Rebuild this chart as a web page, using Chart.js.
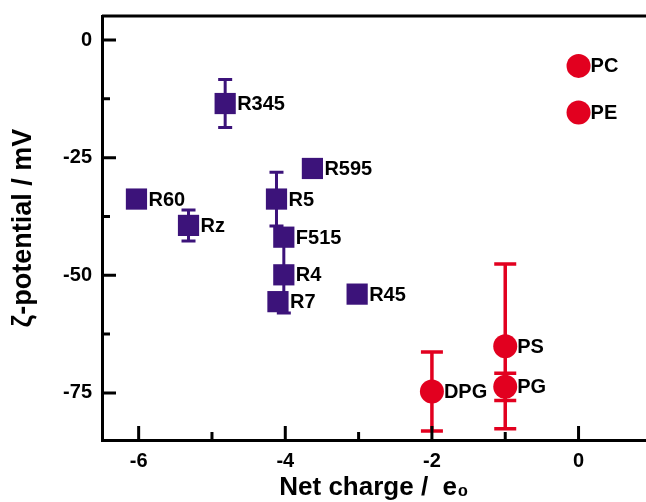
<!DOCTYPE html>
<html>
<head>
<meta charset="utf-8">
<script src="https://cdn.jsdelivr.net/npm/chart.js@4"></script>
<style>
  html, body { margin: 0; padding: 0; background: #fff; }
  #wrap { width: 646px; height: 502px; }
</style>
</head>
<body>
<div id="wrap"><canvas id="c" width="646" height="502"></canvas></div>
<script>
// peptides (squares)
const pepNames = ["R345", "R60", "Rz", "R5", "F515", "R595", "R4", "R7", "R45"];
const pepCharge = [-4.82, -6.03, -5.32, -4.12, -4.02, -3.63, -4.02, -4.1, -3.02];
const pepZeta = [-13.5, -33.8, -39.4, -33.8, -41.9, -27.3, -49.9, -55.6, -54.0];
const pepErr = [5.1, 0, 3.3, 5.7, 0, 0, 8.1, 0, 0];

// lipids (circles)
const lipNames = ["PC", "PE", "PS", "PG", "DPG"];
const lipCharge = [0, 0, -1, -1, -2];
const lipZeta = [-5.5, -15.4, -65.1, -73.7, -74.7];
const lipErr = [0, 0, 17.5, 2.9, 8.4];

const xTicks = [-6, -4, -2, 0];
const xMinor = [-5, -3, -1];
const yTicks = [0, -25, -50, -75];
const yMinor = [-12.5, -37.5, -62.5];

const PURPLE = "#3c137a";
const RED = "#e2001f";
const FONT = "'Liberation Sans', Arial, sans-serif";

Chart.defaults.font.family = FONT;
Chart.defaults.color = "#000";

const toPoints = (xs, ys) => xs.map((v, i) => ({ x: v, y: ys[i] }));

// error bars behind the markers
const errorBars = {
    id: "errorBars",
    beforeDatasetsDraw(chart) {
        const { ctx, scales: { x, y } } = chart;
        chart.data.datasets.forEach(ds => {
            ds.errors.forEach((e, i) => {
                if (!e) return;
                const p = ds.data[i];
                const px = x.getPixelForValue(p.x);
                const top = y.getPixelForValue(p.y + e);
                const bot = y.getPixelForValue(p.y - e);
                ctx.save();
                ctx.strokeStyle = ds.backgroundColor;
                ctx.lineWidth = ds.errWidth;
                ctx.beginPath();
                ctx.moveTo(px, top); ctx.lineTo(px, bot);
                ctx.moveTo(px - ds.capHalf, top); ctx.lineTo(px + ds.capHalf, top);
                ctx.moveTo(px - ds.capHalf, bot); ctx.lineTo(px + ds.capHalf, bot);
                ctx.stroke();
                ctx.restore();
            });
        });
    }
};

// names right of each marker
const pointNames = {
    id: "pointNames",
    afterDatasetsDraw(chart) {
        const { ctx, scales: { x, y } } = chart;
        ctx.save();
        ctx.font = "bold 20px " + FONT;
        ctx.fillStyle = "#000";
        ctx.textAlign = "left";
        ctx.textBaseline = "middle";
        chart.data.datasets.forEach(ds => {
            ds.names.forEach((n, i) => {
                const p = ds.data[i];
                ctx.fillText(n, x.getPixelForValue(p.x) + ds.labelGap, y.getPixelForValue(p.y) + 1);
            });
        });
        ctx.restore();
    }
};

// inward ticks + top frame line
const frame = {
    id: "frame",
    afterDraw(chart) {
        const { ctx, chartArea: a, scales: { x, y } } = chart;
        ctx.save();
        ctx.strokeStyle = "#000";
        ctx.lineWidth = 3;
        ctx.beginPath();
        ctx.moveTo(a.left, a.top); ctx.lineTo(a.right, a.top);
        xTicks.forEach(v => { const px = x.getPixelForValue(v); ctx.moveTo(px, a.bottom); ctx.lineTo(px, a.bottom - 14); });
        xMinor.forEach(v => { const px = x.getPixelForValue(v); ctx.moveTo(px, a.bottom); ctx.lineTo(px, a.bottom - 8); });
        yTicks.forEach(v => { const py = y.getPixelForValue(v); ctx.moveTo(a.left, py); ctx.lineTo(a.left + 14, py); });
        yMinor.forEach(v => { const py = y.getPixelForValue(v); ctx.moveTo(a.left, py); ctx.lineTo(a.left + 8, py); });
        ctx.stroke();
        ctx.restore();
    }
};

const tickFont = { size: 20, weight: "bold" };

// keep the plot box where the original has it
const noPad = s => { s.paddingLeft = 0; s.paddingRight = 0; s.paddingTop = 0; s.paddingBottom = 0; };

new Chart(document.getElementById("c"), {
    type: "scatter",
    data: {
        datasets: [
            {
                data: toPoints(pepCharge, pepZeta),
                names: pepNames,
                errors: pepErr,
                errWidth: 3,
                capHalf: 7,
                labelGap: 12,
                pointStyle: "rect",
                pointRadius: 15,
                pointHoverRadius: 15,
                borderWidth: 0,
                backgroundColor: PURPLE,
                borderColor: PURPLE
            },
            {
                data: toPoints(lipCharge, lipZeta),
                names: lipNames,
                errors: lipErr,
                errWidth: 3.5,
                capHalf: 11,
                labelGap: 12,
                pointStyle: "circle",
                pointRadius: 12,
                pointHoverRadius: 12,
                borderWidth: 0,
                backgroundColor: RED,
                borderColor: RED
            }
        ]
    },
    options: {
        responsive: false,
        animation: false,
        events: [],
        layout: { autoPadding: false, padding: { top: 16, left: 0, right: 0, bottom: 0 } },
        plugins: {
            legend: { display: false },
            tooltip: { enabled: false }
        },
        scales: {
            x: {
                type: "linear",
                min: -6.5,
                max: 0.92,
                afterBuildTicks: s => { s.ticks = xTicks.map(v => ({ value: v })); },
                afterFit: s => { s.height = 62; noPad(s); },
                ticks: { font: tickFont, color: "#000", padding: 9 },
                grid: { display: false, drawTicks: false },
                border: { display: true, color: "#000", width: 3 },
                title: {
                    display: true,
                    text: "Net charge /  e₀",
                    color: "#000",
                    font: { size: 26, weight: "bold", lineHeight: 1 },
                    padding: { top: 0, bottom: 1 }
                }
            },
            y: {
                type: "linear",
                min: -85,
                max: 5.1,
                afterBuildTicks: s => { s.ticks = yTicks.map(v => ({ value: v })); },
                afterFit: s => { s.width = 102; noPad(s); },
                ticks: { font: tickFont, color: "#000", padding: 10 },
                grid: { display: false, drawTicks: false },
                border: { display: true, color: "#000", width: 3 },
                title: {
                    display: true,
                    text: "ζ-potential / mV",
                    color: "#000",
                    font: { size: 27, weight: "bold", lineHeight: 1 },
                    padding: { top: 10, bottom: 0 }
                }
            }
        }
    },
    plugins: [errorBars, pointNames, frame]
});
</script>
</body>
</html>
